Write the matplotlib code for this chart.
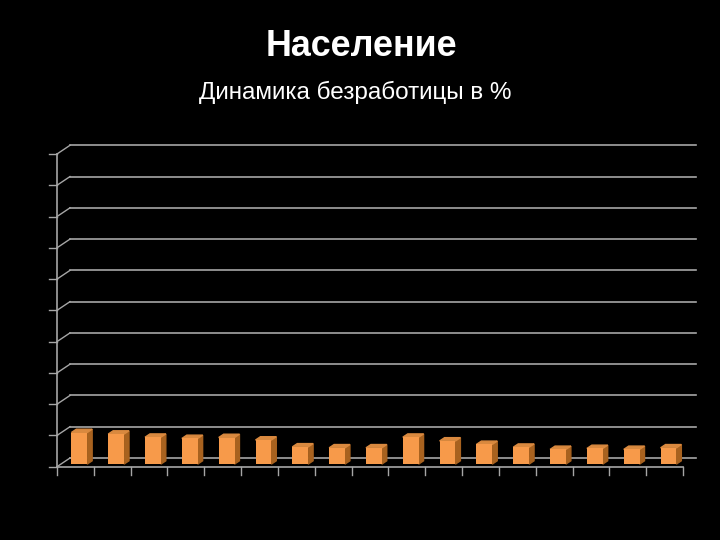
import numpy as np
import matplotlib
matplotlib.use("Agg")
import matplotlib.pyplot as plt
from matplotlib.patches import Polygon

plt.rcParams['font.family'] = ['Liberation Sans', 'DejaVu Sans']

# unemployment dynamics, % (labels on the original are invisible)
values = [10.1, 9.6, 8.6, 8.2, 8.5, 7.7, 5.5, 5.2, 5.2,
          8.6, 7.4, 6.3, 5.4, 4.7, 5.0, 4.7, 5.2]
y_ticks = list(range(0, 101, 10))

N = len(values)
GRID = "#a6a6a6"
FRONT = "#f79a4a"
SIDE = "#a8621f"
TOP = "#d9893f"

FIG = plt.figure(figsize=(7.2, 5.4), dpi=100, facecolor="black")
AX = FIG.add_axes([57/720, (540-466.7)/540, 626/720, 312.7/540])
AX.set_facecolor("black")
AX.set_xlim(0, N)
AX.set_ylim(0, 100)
AX.axis("off")

# depth of the fake 3d box in data units (13px right, 8.7px up)
DX = 13 / (626 / N)
DY = 8.7 / (312.7 / 100)

# back wall gridlines + left wall diagonals + front ticks
for v in y_ticks:
    AX.plot([DX, N + DX], [v + DY, v + DY], color=GRID, lw=1.2,
            clip_on=False, zorder=1)
    AX.plot([0, DX], [v, v + DY], color=GRID, lw=1.0, clip_on=False, zorder=1)
    AX.plot([-8 / (626 / N), 0], [v, v], color=GRID, lw=1.0, clip_on=False)
AX.plot([0, 0], [0, 100], color=GRID, lw=1.2, clip_on=False, zorder=2)
AX.plot([0, N], [0, 0], color=GRID, lw=1.2, clip_on=False, zorder=2)
for i in range(N + 1):
    AX.plot([i, i], [0, -8 / 3.127], color=GRID, lw=1.0, clip_on=False)

# bars: front face via ax.bar, sides/top as polygons
d0, bd, W = 0.3, 0.38, 0.43
x = np.arange(N) + 0.5 + d0 * DX
base = d0 * DY
AX.bar(x, values, width=W, bottom=base, color=FRONT, zorder=4, clip_on=False)
for xc, v in zip(x, values):
    x0, x1 = xc - W / 2, xc + W / 2
    top = base + v
    AX.add_patch(Polygon([(x1, base), (x1 + bd * DX, base + bd * DY),
                          (x1 + bd * DX, top + bd * DY), (x1, top)],
                         closed=True, color=SIDE, zorder=3, clip_on=False))
    AX.add_patch(Polygon([(x0, top), (x1, top), (x1 + bd * DX, top + bd * DY),
                          (x0 + bd * DX, top + bd * DY)],
                         closed=True, color=TOP, zorder=3, clip_on=False))

FIG.text(0.502, 1 - 47/540, "Население", color="white", fontsize=25.8,
         fontweight="bold", ha="center", va="center")
FIG.text(0.494, 1 - 92/540, "Динамика безработицы в %", color="white",
         fontsize=17.5, ha="center", va="center")

FIG.savefig("out.png", dpi=100, facecolor="black")
